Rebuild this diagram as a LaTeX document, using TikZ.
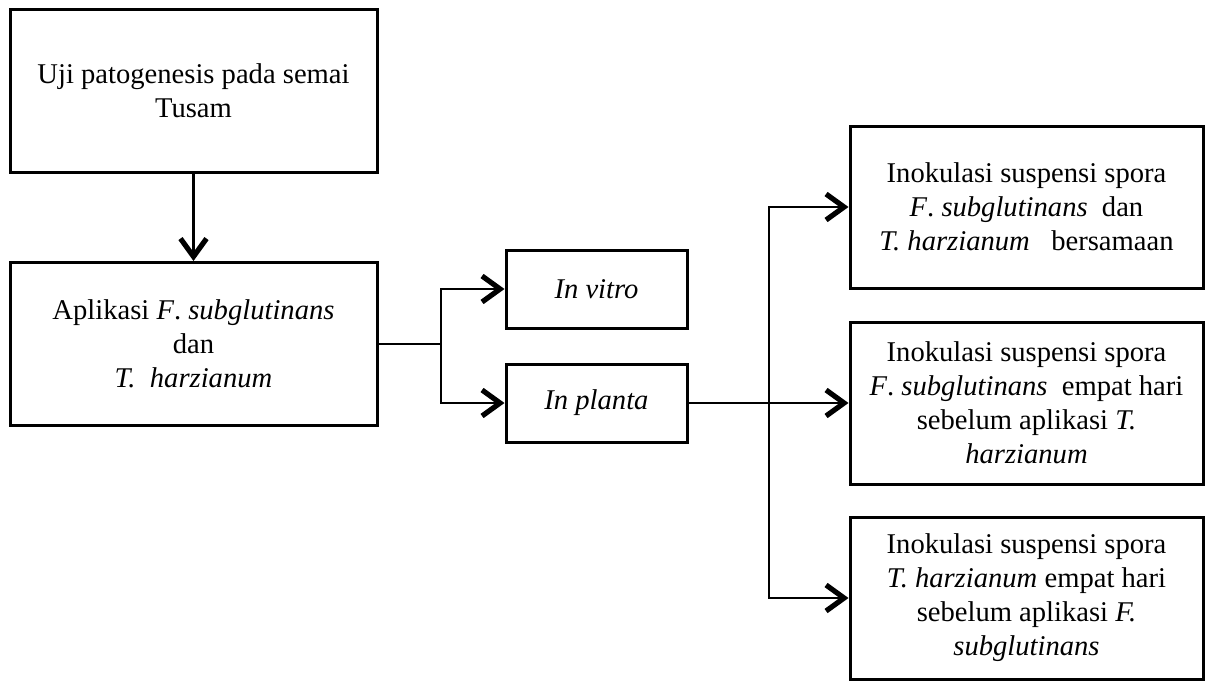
\documentclass[tikz,border=0pt]{standalone}
\usepackage{fontspec}
\setmainfont{Liberation Serif}
\usepackage{tikz}
\usetikzlibrary{arrows.meta}

\begin{document}
\begin{tikzpicture}[x=0.5pt,y=-0.5pt,
    box/.style={draw, line width=1.5pt, align=center, font=\fontsize{14.3}{17}\selectfont, inner sep=0pt},
    bigbox/.style={box, minimum width=183.5pt, minimum height=81.5pt},
    smallbox/.style={box, minimum width=90.5pt, minimum height=39pt},
    sidebox/.style={box, minimum width=176.5pt, minimum height=81pt},
    conn/.style={line width=1.35pt},
    arr/.style={conn, -{Straight Barb[length=9pt,width=13pt,line width=2.6pt]}}]
    \useasboundingbox (0, 0) rectangle (1210, 680);
    \node[bigbox] (uji) at (193.5, 90.5) {Uji patogenesis pada semai\\Tusam};
    \node[bigbox] (aplikasi) at (193.5, 344) {Aplikasi \textit{F}. \textit{subglutinans}\\dan\\\textit{T.\ \ harzianum}};
    \node[smallbox] (vitro) at (596.5, 289) {\textit{In vitro}};
    \node[smallbox] (planta) at (596.5, 403) {\textit{In planta}};
    \node[sidebox] (bersama) at (1026.5, 207) {Inokulasi suspensi spora\\\textit{F}. \textit{subglutinans}\ \ dan\\\textit{T. harzianum}\ \ \ bersamaan};
    \node[sidebox] (fdulu) at (1026.5, 403) {Inokulasi suspensi spora\\\textit{F}. \textit{subglutinans}\ \ empat hari\\sebelum aplikasi \textit{T.}\\\textit{harzianum}};
    \node[sidebox] (tdulu) at (1026.5, 598) {Inokulasi suspensi spora\\\textit{T. harzianum} empat hari\\sebelum aplikasi \textit{F.}\\\textit{subglutinans}};
    \coordinate (cabang1) at (441, 344);
    \coordinate (cabang2) at (769, 403);
    \draw[arr] (uji) -- (aplikasi);
    \draw[conn] (aplikasi.east) -- (cabang1);
    \draw[arr] (cabang1) |- (vitro.west);
    \draw[arr] (cabang1) |- (planta.west);
    \draw[arr] (planta.east) -- (fdulu.west);
    \draw[arr] (cabang2) |- (bersama.west);
    \draw[arr] (cabang2) |- (tdulu.west);
  \end{tikzpicture}
\end{document}
